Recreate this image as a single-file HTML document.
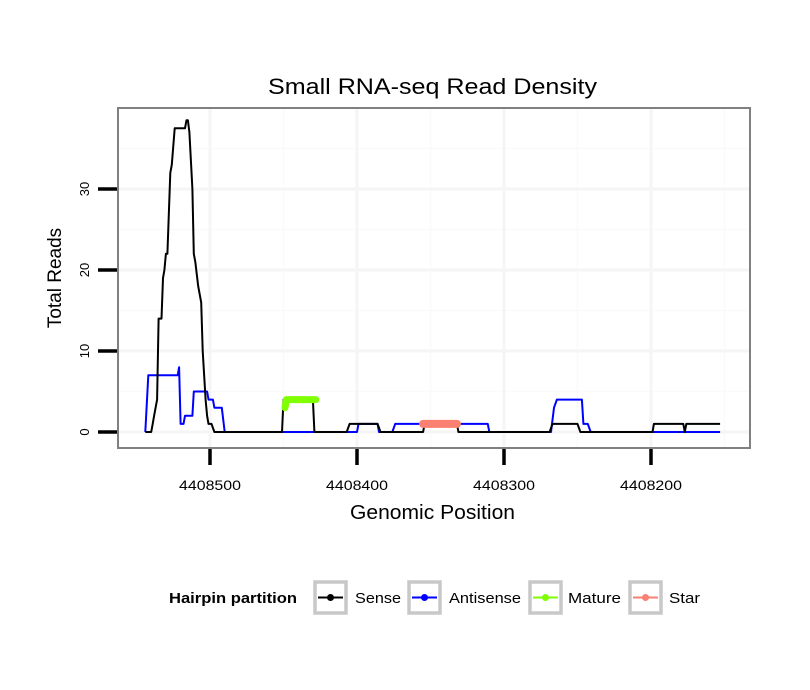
<!DOCTYPE html>
<html><head><meta charset="utf-8">
<style>
body{margin:0;background:#fff;}
svg{display:block;font-family:"Liberation Sans",sans-serif;}
</style></head>
<body>
<svg id="chart" width="810" height="690" viewBox="0 0 810 690">
<rect width="810" height="690" fill="#fff"/>
<text x="268" y="94" font-size="22" textLength="329" lengthAdjust="spacingAndGlyphs">Small RNA-seq Read Density</text>
<g id="grid"></g>
<g id="marks"></g>
<rect x="118" y="108" width="632" height="340" fill="none" stroke="#808080" stroke-width="2"/>
<g id="axes"></g>
<text x="350" y="519" font-size="20" textLength="165" lengthAdjust="spacingAndGlyphs">Genomic Position</text>
<text transform="translate(61,278) rotate(-90)" font-size="19" text-anchor="middle">Total Reads</text>
<g>
<text x="169" y="603" font-size="15" font-weight="bold" textLength="128" lengthAdjust="spacingAndGlyphs">Hairpin partition</text>
<g><rect x="315" y="582" width="31" height="31" fill="#fff" stroke="#c8c8c8" stroke-width="3.5"/><line x1="318" y1="597.5" x2="343" y2="597.5" stroke="#000" stroke-width="2"/><circle cx="330.5" cy="597.5" r="3.5" fill="#000"/><text x="355" y="603" font-size="15" textLength="46" lengthAdjust="spacingAndGlyphs">Sense</text></g>
<g><rect x="409" y="582" width="31" height="31" fill="#fff" stroke="#c8c8c8" stroke-width="3.5"/><line x1="412" y1="597.5" x2="437" y2="597.5" stroke="#0000ff" stroke-width="2"/><circle cx="424.5" cy="597.5" r="3.5" fill="#0000ff"/><text x="449" y="603" font-size="15" textLength="72" lengthAdjust="spacingAndGlyphs">Antisense</text></g>
<g><rect x="530" y="582" width="31" height="31" fill="#fff" stroke="#c8c8c8" stroke-width="3.5"/><line x1="533" y1="597.5" x2="558" y2="597.5" stroke="#7fff00" stroke-width="2"/><circle cx="545.5" cy="597.5" r="3.5" fill="#7fff00"/><text x="568" y="603" font-size="15" textLength="53" lengthAdjust="spacingAndGlyphs">Mature</text></g>
<g><rect x="630" y="582" width="31" height="31" fill="#fff" stroke="#c8c8c8" stroke-width="3.5"/><line x1="633" y1="597.5" x2="658" y2="597.5" stroke="#fa8072" stroke-width="2"/><circle cx="645.5" cy="597.5" r="3.5" fill="#fa8072"/><text x="669" y="603" font-size="15" textLength="31" lengthAdjust="spacingAndGlyphs">Star</text></g>
</g>
</svg>
<script>
const xTicks = [4408500, 4408400, 4408300, 4408200];
const yTicks = [0, 10, 20, 30];
const senseX = [4408544,4408540,4408539,4408538,4408536,4408535,4408533,4408532,4408531,4408530,4408529,4408527,4408526,4408524,4408517,4408516,4408515,4408514,4408512,4408511,4408510,4408508,4408506,4408505,4408503,4408502,4408501,4408499,4408497,4408451,4408450,4408430,4408429,4408407,4408405,4408386,4408384,4408355,4408354,4408332,4408331,4408269,4408267,4408250,4408248,4408199,4408198,4408178,4408177,4408176,4408153];
const senseY = [0,0,1,2,4,14,14,19,20,22,22,32,33,37.5,37.5,38.5,38.5,37,30,22,21,18,16,10,4,2,1,1,0,0,4,4,0,0,1,1,0,0,1,1,0,0,1,1,0,0,1,1,0,1,1];
const antiX = [4408544,4408542,4408522,4408521,4408520,4408518,4408517,4408512,4408511,4408502,4408501,4408498,4408497,4408492,4408490,4408400,4408399,4408386,4408385,4408376,4408374,4408311,4408310,4408268,4408266,4408264,4408247,4408246,4408243,4408241,4408153];
const antiY = [0,7,7,8,1,1,2,2,5,5,4,4,3,3,0,0,1,1,0,0,1,1,0,0,3,4,4,1,1,0,0];
const matureX = [4408449, 4408448, 4408428];
const matureY = [3, 4, 4];
const starX = [4408355, 4408332];
const starY = [1, 1];

const NS = 'http://www.w3.org/2000/svg';
const sx = p => 210 + (4408500 - p) * 1.47;
const sy = v => 432 - v * 8.1;
function mk(tag, attrs, parent){const e=document.createElementNS(NS,tag);for(const k in attrs)e.setAttribute(k,attrs[k]);parent.appendChild(e);return e;}
const grid=document.getElementById('grid'), marks=document.getElementById('marks'), axes=document.getElementById('axes');
mk('rect',{x:118,y:108,width:632,height:340,fill:'#fff'},grid);
for(let i=0;i<xTicks.length;i++){
  const mx=sx(xTicks[i]-50);
  const l=mk('line',{x1:mx,x2:mx,y1:108,y2:448,stroke:'#fafafa','stroke-width':1.5},grid);
  
  
}
for(let i=0;i<yTicks.length;i++){
  const my=sy(yTicks[i]+5);
  const l=mk('line',{x1:118,x2:750,y1:my,y2:my,stroke:'#fafafa','stroke-width':1.5},grid);
  
  
}
for(const t of xTicks){
  const x=sx(t);
  const g=mk('line',{x1:x,x2:x,y1:108,y2:448,stroke:'#f5f5f5','stroke-width':3},grid);
  
  
  const tk=mk('line',{x1:x,x2:x,y1:449,y2:465,stroke:'#000','stroke-width':3.5},axes);
  
  
  const tx=mk('text',{x:x,y:490,'font-size':14,'text-anchor':'middle',textLength:62,lengthAdjust:'spacingAndGlyphs'},axes);
  tx.textContent=t;
  
  
}
for(const t of yTicks){
  const y=sy(t);
  const g=mk('line',{x1:118,x2:750,y1:y,y2:y,stroke:'#f5f5f5','stroke-width':3},grid);
  
  
  const tk=mk('line',{x1:98,x2:117,y1:y,y2:y,stroke:'#000','stroke-width':3.5},axes);
  
  
  const tx=mk('text',{transform:`translate(89,${y}) rotate(-90)`,'font-size':13,'text-anchor':'middle'},axes);
  tx.textContent=t;
  
  
}
function pts(X,Y){return X.map((p,i)=>sx(p).toFixed(1)+','+sy(Y[i]).toFixed(1)).join(' ');}
const a=mk('polyline',{points:pts(antiX,antiY),fill:'none',stroke:'#0000ff','stroke-width':2,'stroke-linejoin':'round'},marks);


const s=mk('polyline',{points:pts(senseX,senseY),fill:'none',stroke:'#000','stroke-width':2,'stroke-linejoin':'round'},marks);


const m=mk('polyline',{points:pts(matureX,matureY),fill:'none',stroke:'#7fff00','stroke-width':7,'stroke-linecap':'round','stroke-linejoin':'round'},marks);


const st=mk('polyline',{points:pts(starX,starY),fill:'none',stroke:'#fa8072','stroke-width':8,'stroke-linecap':'round'},marks);


</script>
</body></html>
